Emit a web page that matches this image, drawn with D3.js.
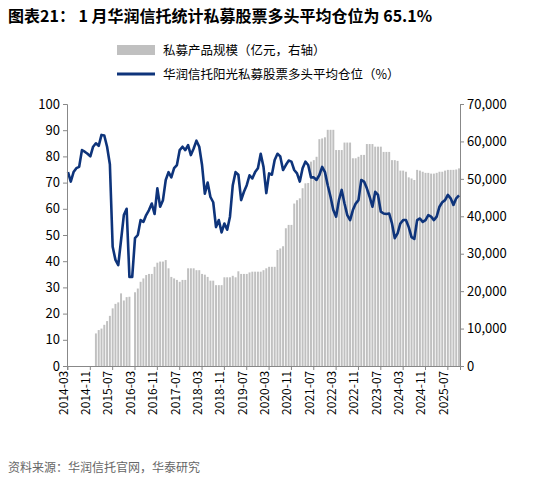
<!DOCTYPE html><html><head><meta charset="utf-8"><script src="https://cdn.jsdelivr.net/npm/d3@7"></script>
<style>body{margin:0;background:#fff}text{font-family:"Noto Sans CJK SC","Noto Sans",sans-serif}</style></head><body><svg id="c" width="550" height="482"></svg><script>
const startMonth="2014-03";
const position=[74,70.4,74,75.5,76,82.4,81.8,81,80,83.7,85,84,88.2,88,83.7,77,45.5,40.5,38.5,48,57.6,60,34,34,48.8,50,55.7,55,57.6,59.5,62,58,67.8,60.8,63.3,71,74,72,75.5,76.7,82.4,83.7,82.4,84.3,80.5,83,86,83.7,76.7,65.8,70,64.5,62.5,53,55.7,51,54.4,52,57,69,74,73,63.3,66.5,69,72.8,71.6,74,75.5,81,76,66,73.5,73,78.6,81,80,74.8,76.7,78.4,78,74.8,73.5,70.4,75.5,78,76.7,72,72,71,72.9,76,74,69,64.6,59.5,57,63.3,67.2,62,57.6,55.7,59.5,62,63.3,71,70.4,67.8,64.6,60.8,66.5,65.3,58.9,58.2,58,58.2,54.4,48.8,50.6,54.4,55.7,55.7,53,49.2,48.5,55.7,56.3,55,55.7,57.6,57,55.7,57,60.8,62.5,63.3,65.3,64,61.5,64,65.1];
const scale=[null,null,null,null,null,null,null,null,null,null,8.7,9.6,10.0,11.0,12.0,13.4,15.4,16.6,17.0,19.4,17.5,18.4,18.5,null,19.7,20.7,22.5,23.4,24.3,24.6,24.6,26.5,27.6,27.9,27.9,28.3,26.1,23.8,23.4,23.0,22.5,23.0,23.0,26.1,26.1,26.1,25.6,25.6,24.6,24.4,23.8,22.8,22.8,21.6,21.6,21.6,23.7,23.7,23.7,24.1,23.7,25.3,24.6,24.6,24.6,25.0,25.2,25.2,25.2,25.2,25.6,26.1,26.5,26.5,26.5,31.0,31.4,32.0,36.8,37.7,37.7,43.4,44.3,44.8,47.5,48.8,48.9,54.6,55.0,55.9,60.6,60.8,61.1,63.1,63.1,63.1,57.7,57.7,57.7,59.7,59.7,59.7,55.5,55.5,55.9,56.4,56.4,59.3,59.3,59.3,58.6,58.6,58.6,57.2,57.2,57.2,55.0,55.0,54.8,52.2,52.2,51.9,50.4,50.1,49.7,52.4,52.2,51.9,51.6,51.6,51.4,51.4,51.6,51.9,51.9,52.2,52.4,52.4,52.4,52.5,52.8];
const leftTicks=[0,10,20,30,40,50,60,70,80,90,100];
const rightTicks=[0,10000,20000,30000,40000,50000,60000,70000];
const months=position.map((_,i)=>{const d=new Date(2014,2+i,1);return d.getFullYear()+"-"+String(d.getMonth()+1).padStart(2,"0");});
const svg=d3.select("#c");
const L=67,R=460,T=104,B=366;
svg.append("text").attr("x",8).attr("y",22).attr("font-size",16).attr("font-weight","bold").attr("fill","#000").text("图表21：  1 月华润信托统计私募股票多头平均仓位为 65.1%");
const x=d3.scaleBand().domain(months).range([L,R]).paddingInner(0.3);
const xc=d=>x(d)+x.bandwidth()/2;
const yl=d3.scaleLinear().domain([0,100]).range([B,T]);
const yr=d3.scaleLinear().domain([0,70000]).range([B,T]);
svg.selectAll("rect.b").data(months.map((m,i)=>({m,v:scale[i]})).filter(d=>d.v!=null)).enter().append("rect")
 .attr("x",d=>x(d.m)).attr("width",x.bandwidth()).attr("y",d=>yr(d.v*1000)).attr("height",d=>B-yr(d.v*1000)).attr("fill","#c0c0c0");
svg.append("path").datum(position).attr("fill","none").attr("stroke","#0e347b").attr("stroke-width",2.6).attr("stroke-linejoin","round")
 .attr("d",d3.line().x((d,i)=>xc(months[i])).y(d=>yl(d)));
const ga=svg.append("g").attr("transform",`translate(${L},0)`).call(d3.axisLeft(yl).tickValues(leftTicks).tickSize(4));
const gb=svg.append("g").attr("transform",`translate(${R},0)`).call(d3.axisRight(yr).tickValues(rightTicks).tickFormat(d3.format(",")).tickSize(4));
const tickM=months.filter((m,i)=>i%8===0);
const gx=svg.append("g").attr("transform",`translate(0,${B})`).call(d3.axisBottom(x).tickValues(tickM).tickSize(4));
gx.selectAll("text").attr("transform","rotate(-90)").attr("text-anchor","end").attr("dx","-0.4em").attr("dy","-0.6em").attr("font-size",12);
[ga,gb,gx].forEach(g=>{g.select(".domain").attr("stroke","#888");g.selectAll("line").attr("stroke","#888");g.selectAll("text").attr("fill","#000");});
ga.selectAll("text").attr("font-size",13);gb.selectAll("text").attr("font-size",13);
svg.append("rect").attr("x",117).attr("y",45).attr("width",38).attr("height",10).attr("fill","#c0c0c0");
svg.append("text").attr("x",163).attr("y",55).attr("font-size",12.5).text("私募产品规模（亿元，右轴）");
svg.append("line").attr("x1",117).attr("x2",155).attr("y1",74).attr("y2",74).attr("stroke","#0e347b").attr("stroke-width",3);
svg.append("text").attr("x",163).attr("y",79).attr("font-size",12.5).text("华润信托阳光私募股票多头平均仓位（%）");
svg.append("text").attr("x",8).attr("y",472).attr("font-size",12).attr("fill","#666").text("资料来源：华润信托官网，华泰研究");
</script></body></html>
